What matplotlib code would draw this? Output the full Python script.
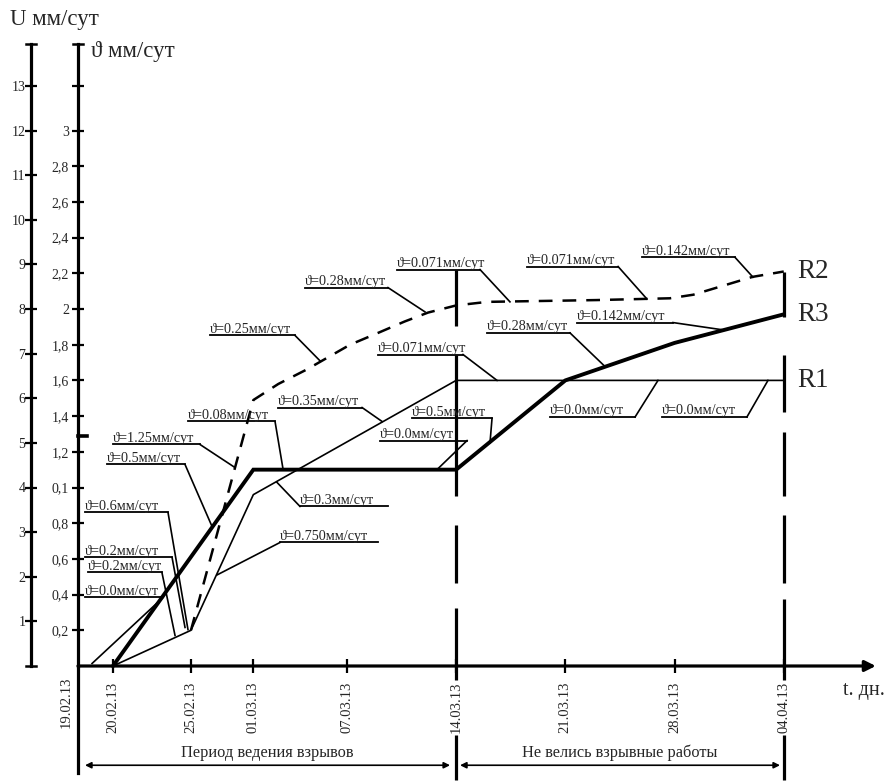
import matplotlib
matplotlib.use("Agg")
import matplotlib.pyplot as plt
from matplotlib.ticker import FixedLocator, FixedFormatter

SERIF = ["Liberation Serif", "DejaVu Serif"]
plt.rcParams["font.family"] = SERIF

# ---------------- data ----------------
# time axis: days counted from 19.02.13
date_days = [1, 6, 10, 16, 23, 30, 37, 44]
date_labels = ["20.02.13", "25.02.13", "01.03.13", "07.03.13",
               "14.03.13", "21.03.13", "28.03.13", "04.04.13"]
origin_label = "19.02.13"

# velocity axis (ϑ) and displacement-rate axis (U = 4·ϑ)
theta_ticks = [0.2, 0.4, 0.6, 0.8, 1.0, 1.2, 1.4, 1.6, 1.8, 2.0,
               2.2, 2.4, 2.6, 2.8, 3.0, 3.25]
theta_tick_labels = ["0,2", "0,4", "0,6", "0,8", "0,1", "1,2", "1,4", "1,6",
                     "1,8", "2", "2,2", "2,4", "2,6", "2,8", "3", ""]
u_ticks = [1, 2, 3, 4, 5, 6, 7, 8, 9, 10, 11, 12, 13]
u_tick_labels = [str(v) for v in u_ticks]

# measurement curves (days, ϑ-scale value)
r1_days = [1, 6, 10, 23, 44]
r1_vals = [0.0, 0.2, 0.96, 1.6, 1.6]

r3_days = [1, 10, 23, 30, 37, 44]
r3_vals = [0.0, 1.1, 1.1, 1.6, 1.81, 1.97]

r2_days = [6, 10, 11.6, 13.4, 16.2, 18.1, 19.7, 21.2, 23, 25, 32, 36.7,
           38.2, 40.1, 42, 44]
r2_vals = [0.2, 1.49, 1.58, 1.66, 1.80, 1.87, 1.93, 1.98, 2.02, 2.04, 2.05,
           2.06, 2.08, 2.13, 2.18, 2.21]

# velocity call-outs: value text
speed_texts = ["0.6", "0.2", "0.2", "0.0", "0.5", "1.25", "0.08", "0.35",
               "0.3", "0.750", "0.25", "0.28", "0.071", "0.071", "0.142",
               "0.142", "0.28", "0.071", "0.5", "0.0", "0.0", "0.0"]

period_labels = ["Период ведения взрывов", "Не велись взрывные работы"]

# ---------------- layout ----------------
W, H = 894, 782
PX_DAY = 15.6
X0 = -1.24                       # day value at the origin of the time axis
YTOP = 622 / 178.5               # ϑ value at the top of the axes

# call-out geometry: underline start, underline end, underline level,
# leader side ('e' = from end, 's' = from start), leader tip (day, value)
callout_geom = [
    (-0.79, 4.53, 0.860, "e", (5.81, 0.204)),
    (-0.79, 4.79, 0.608, "e", (5.62, 0.216)),
    (-0.60, 4.14, 0.524, "e", (4.98, 0.171)),
    (-0.79, 4.21, 0.384, "e", (-0.34, 0.014)),
    (0.62, 5.62, 1.129, "e", (7.35, 0.782)),
    (1.00, 6.58, 1.241, "e", (8.82, 1.112)),
    (5.81, 11.39, 1.370, "e", (11.90, 1.105)),
    (11.58, 16.97, 1.448, "e", (18.25, 1.370)),
    (12.99, 18.63, 0.894, "s", (11.50, 1.030)),
    (11.71, 17.99, 0.692, "s", (7.67, 0.510)),
    (7.22, 12.67, 1.852, "e", (14.27, 1.710)),
    (13.31, 18.63, 2.120, "e", (21.00, 1.984)),
    (19.21, 24.53, 2.221, "e", (26.45, 2.040)),
    (27.54, 33.38, 2.238, "e", (35.23, 2.056)),
    (34.91, 40.88, 2.289, "e", (42.03, 2.178)),
    (30.75, 36.90, 1.924, "e", (40.11, 1.883)),
    (24.98, 30.30, 1.866, "e", (32.54, 1.678)),
    (17.99, 23.44, 1.745, "e", (25.62, 1.600)),
    (20.17, 25.30, 1.387, "e", (25.17, 1.250)),
    (18.12, 23.70, 1.263, "e", (21.77, 1.100)),
    (29.02, 34.47, 1.395, "e", (35.94, 1.600)),
    (36.20, 41.64, 1.395, "e", (42.99, 1.600)),
]

# long-dash boundary lines at 14.03 and 04.04 (segments in ϑ units)
boundary_segments = {
    23: [(2.22, 1.905), (1.745, 0.95), (0.79, 0.466), (0.326, 0.0),
         (0.0, -0.08), (-0.385, -0.64)],
    44: [(2.21, 1.955), (1.745, 1.425), (1.313, 0.95), (0.848, 0.466),
         (0.373, 0.0), (0.0, -0.08), (-0.385, -0.64)],
}

TXT = "#262626"

fig = plt.figure(figsize=(W / 100, H / 100), dpi=100)
ax = fig.add_axes([78 / W, 116 / H, 812 / W, 622 / H])
ax.set_xlim(X0, X0 + 812 / PX_DAY)
ax.set_ylim(0, YTOP)
for side in ("top", "right", "bottom"):
    ax.spines[side].set_visible(False)
ax.spines["left"].set_linewidth(2.3)

# ϑ axis ticks
ax.yaxis.set_major_locator(FixedLocator(theta_ticks))
ax.yaxis.set_major_formatter(FixedFormatter(theta_tick_labels))
ax.tick_params(axis="y", direction="inout", length=9, width=1.6,
               labelsize=10, pad=2, colors="black")
for lab in ax.get_yticklabels():
    lab.set_color(TXT)

# U axis
sec = ax.secondary_yaxis(-47 / 812, functions=(lambda t: 4 * t, lambda u: u / 4))
sec.set_yticks(u_ticks, labels=u_tick_labels)
sec.spines["left"].set_linewidth(2.3)
sec.tick_params(direction="inout", length=8, width=1.6, labelsize=10, pad=0)
for lab in sec.get_yticklabels():
    lab.set_color(TXT)

# time axis ticks
ax.set_xticks(date_days, labels=date_labels)
ax.tick_params(axis="x", direction="inout", length=10, width=1.6,
               labelsize=10.5, pad=6, rotation=90)
for lab in ax.get_xticklabels():
    lab.set_color(TXT)
ax.text(X0 - 0.75, -0.06, origin_label, rotation=90, ha="center", va="top",
        fontsize=10.5, color=TXT, clip_on=False)

# time axis with arrow
ax.annotate("", xy=(49.9, 0), xytext=(X0, 0), annotation_clip=False,
            arrowprops=dict(arrowstyle="-|>", lw=2.3, color="black",
                            mutation_scale=16, shrinkA=0, shrinkB=0))
ax.text(47.8, -0.135, "t. дн.", fontsize=14.5, ha="left", va="center",
        color=TXT, clip_on=False)

# caps on both vertical axes and their extensions
ux = X0 - 47 / PX_DAY
cap = 0.33
ax.plot([ux - cap, ux + cap], [YTOP, YTOP], color="black", lw=1.8, clip_on=False)
ax.plot([ux - cap, ux + cap], [0, 0], color="black", lw=1.8, clip_on=False)
ax.plot([X0 - cap, X0 + cap], [YTOP, YTOP], color="black", lw=1.8, clip_on=False)
ax.plot([X0, X0], [0, -0.60], color="black", lw=2.3, clip_on=False)
ax.plot([X0, X0 + 0.6], [1.29, 1.29], color="black", lw=2.6, clip_on=False)

# axis titles
fig.text(10 / W, 1 - 19 / H, "U мм/сут", fontsize=16.5, ha="left",
         va="center", color=TXT)
fig.text(91 / W, 1 - 52 / H, "ϑ мм/сут", fontsize=16.5, ha="left",
         va="center", color=TXT)

# boundary lines
for day, segs in boundary_segments.items():
    for y0, y1 in segs:
        ax.plot([day, day], [y0, y1], color="black", lw=2.3,
                solid_capstyle="butt", clip_on=False)

# curves
ax.plot(r1_days, r1_vals, color="black", lw=1.2, clip_on=False)
ax.plot(r3_days, r3_vals, color="black", lw=2.8, clip_on=False,
        solid_joinstyle="miter")
ax.plot(r2_days, r2_vals, color="black", lw=1.8, dashes=(5.5, 4), clip_on=False)

for name, days, vals in (("R1", r1_days, r1_vals), ("R2", r2_days, r2_vals),
                         ("R3", r3_days, r3_vals)):
    ax.text(days[-1] + 0.85, vals[-1], name, fontsize=19.5, ha="left",
            va="center", color=TXT, clip_on=False)

# velocity call-outs
for txt, (xa, xb, yu, side, tip) in zip(speed_texts, callout_geom):
    ax.plot([xa, xb], [yu, yu], color="black", lw=1.3, clip_on=False)
    root = xb if side == "e" else xa
    ax.plot([root, tip[0]], [yu, tip[1]], color="black", lw=1.2, clip_on=False)
    ax.text(xa, yu + 0.016, f"ϑ={txt}мм/сут", fontsize=10.3, ha="left",
            va="baseline", color=TXT, clip_on=False)

# period arrows
arrow_y = -0.556
for (xa, xb), label in zip([(-0.79, 22.61), (23.25, 43.76)], period_labels):
    ax.annotate("", xy=(xb, arrow_y), xytext=(xa, arrow_y), annotation_clip=False,
                arrowprops=dict(arrowstyle="<|-|>", lw=1.2, color="black",
                                mutation_scale=9, shrinkA=0, shrinkB=0))
    ax.text((xa + xb) / 2, arrow_y + 0.025, label, fontsize=11.8, ha="center",
            va="bottom", color=TXT, clip_on=False)

fig.savefig("out.png", dpi=100)
